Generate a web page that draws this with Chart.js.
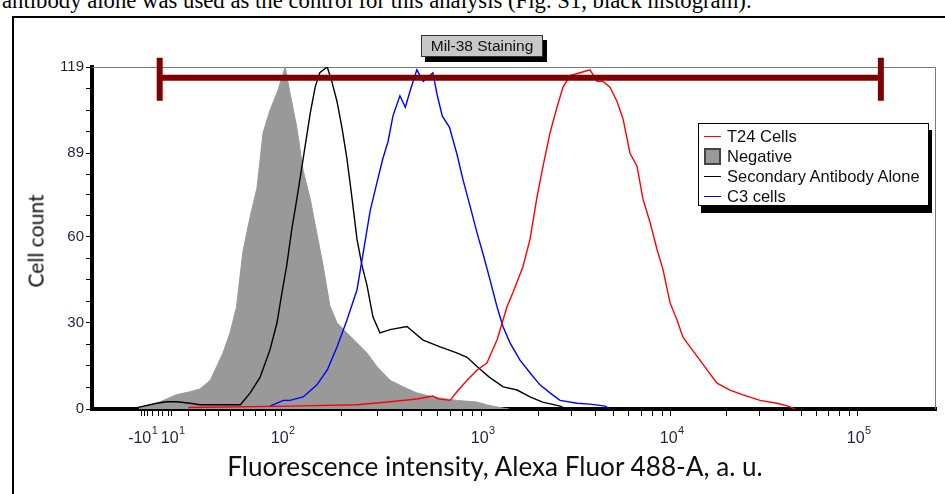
<!DOCTYPE html>
<html><head><meta charset="utf-8">
<script src="https://cdn.jsdelivr.net/npm/chart.js@4.4.1/dist/chart.umd.min.js"></script>
<style>
html,body{margin:0;padding:0;background:#fff;width:945px;height:494px;overflow:hidden;}
body{position:relative;font-family:"Liberation Sans",Arial,sans-serif;}
#frame{position:absolute;left:12px;top:16px;width:960px;height:520px;border:2px solid #000;box-sizing:border-box;}
#caption{position:absolute;left:2px;top:-9px;font-family:"Liberation Serif","Times New Roman",serif;font-size:20px;line-height:20px;white-space:nowrap;color:#000;}
#c{position:absolute;left:0;top:0;z-index:2;}
#ytitle{position:absolute;left:35px;top:241px;transform:translate(-50%,-50%) rotate(-90deg);font-family:Lato,"Open Sans",sans-serif;font-size:22px;white-space:nowrap;z-index:3;color:#111;}
#xtitle{position:absolute;left:495px;top:466px;transform:translate(-50%,-50%);font-family:Lato,"Open Sans",sans-serif;font-size:22px;white-space:nowrap;z-index:3;color:#111;}
#gateLabel{position:absolute;left:421px;top:35px;width:120px;height:20px;background:#c8c8c8;border:1px solid #333;box-shadow:4px 5px 0 #000;font-size:15.5px;text-align:center;line-height:20px;z-index:4;color:#111;}
#legend{position:absolute;left:698px;top:123px;width:231px;height:83px;border:1px solid #000;background:#fff;box-shadow:3px 7px 0 #000;z-index:4;padding-top:3px;box-sizing:border-box;}
.row{height:19.8px;display:flex;align-items:center;font-size:16.5px;color:#111;white-space:nowrap;}
.sample{width:17px;margin-left:5px;margin-right:6px;height:0;border-top:1.5px solid #000;}
.swatch{width:13px;height:13px;margin-left:5px;margin-right:6px;background:#999;border:2px solid #444;box-sizing:content-box;}
</style></head>
<body>
<div id="caption">antibody alone was used as the control for this analysis (Fig. S1, black histogram).</div>
<div id="frame"></div>
<canvas id="c" width="945" height="494"></canvas>
<div id="ytitle">Cell count</div>
<div id="xtitle">Fluorescence intensity, Alexa Fluor 488-A, a. u.</div>
<div id="gateLabel">Mil-38 Staining</div>
<div id="legend"></div>
<script>
// ---------- data (intensity in a.u., counts) ----------
const seriesNames = ["T24 Cells", "Negative", "Secondary Antibody Alone", "C3 cells"];
const seriesColors = ["#ff0000", "#999999", "#000000", "#0000ff"];

const t24Intensity = [20,110,238,348,474,570,605,694,752,845,948,1065,1205,1361,1464,1654,1801,1964,2111,2297,2502,2693,2932,3313,3741,4075,4384,4774,5199,5592,6091,6633,7135,7772,8465,9105,9915,10807,11635,12685,14342,15640,17684,20756,24355,30023,37018,42404,46200];
const t24Count     = [0.5,1,1.5,2.5,3.5,4.5,3.5,3,6,10,13.6,16,24,35.6,40.5,49.6,59,74,84.5,96,105,112,116,117,118,114,114,112,107,101,89,84.5,73,65,55.5,48.5,37,31,25,21.6,17,13.6,9,6.6,4.9,3,2,1,0];

const negIntensity = [-12,0,13,21,27,34,39,44,50,55,60,66,72,78,85,93,100,104,110,119,128,139,150,161,174,189,212,238,267,300,348,405,474,570,750,950,1070,1250,1400];
const negCount     = [0.5,2,5,6,7,10,15,19.5,26.5,35.6,55,67,77,96,104,110,115,119,110,98,83,73,61,50,36,30,26.5,23,19.5,14.7,10,7.7,5.6,4.2,3,2.4,1.4,0.5,0];

const secIntensity = [-13,0,7,13,21,27,37,50,58,66,75,85,93,100,106,112,119,128,139,147,155,169,178,189,200,212,225,238,252,267,286,310,348,423,509,620,750,845,950,1100,1300,1540,1800,2100,2600,2800];
const secCount     = [0.5,2,2.5,2.5,2,1.5,1.5,1.5,1.5,5.6,11,20.6,30,40,50,62,73,87,103,112,117,119,114,107,98,87,73,59,50,43,32,26.5,27.6,28.7,24,21.6,19.5,18,14.7,11,7.7,6.6,4.2,2.4,1,0];

const c3Intensity  = [85,102,110,128,150,169,189,212,238,255,277,300,320,340,360,390,415,440,474,510,540,570,600,635,690,750,805,875,950,1016,1106,1205,1296,1412,1594,1801,2034,2297,2596,3195,3740,4500,4770];
const c3Count      = [1,3,3,4.2,8.4,13.6,21.6,31,41.5,54,69,79,87,93,102,109,105,111,118,114,115.5,117,109,102,98,89,80,70.5,61,54,45,35.6,28.7,23,17,12.6,8.4,5.6,3,2,1.7,1,0];

const gateName = "Mil-38 Staining";
const gateRange = [2, 133000];
const gateLevel = 115.3;

const yMajorTicks = [0, 30, 60, 89, 119];
const xMajorTicks = [-10, 10, 100, 1000, 10000, 100000];
const xLabelBase  = ["-10", "10", "10", "10", "10", "10"];
const xLabelExp   = ["1", "1", "2", "3", "4", "5"];
const xMinorTicks = [-8,-6,-3,1,4,8,20,30,40,50,60,70,80,90,200,300,400,500,600,700,800,900,2000,3000,4000,5000,6000,7000,8000,9000,20000,30000,40000,50000,60000,70000,80000,90000];

// ---------- axis transform (biexponential-like display) ----------
const lowAnchors = [[-10,1.30],[0,1.375],[10,1.45],[20,1.533],[30,1.6165],[40,1.683],[50,1.7415],[60,1.8065],[70,1.8665],[80,1.9165],[90,1.9665],[100,2]];
function toDisp(I){
  if (I >= 100){
    const L = Math.log10(I);
    if (L <= 3) return L;
    if (L <= 4) return 3 + 0.945*(L-3);
    return 3.945 + 0.935*(L-4);
  }
  if (I <= -10) return 1.30 + (I+10)*0.0075;
  for (let i=1;i<lowAnchors.length;i++){
    const [a,da]=lowAnchors[i-1],[b,db]=lowAnchors[i];
    if (I<=b) return da + (I-a)/(b-a)*(db-da);
  }
  return 2;
}
const XMIN = 1.0515, XMAX = 5.2715;

function pts(xs, ys){ return xs.map((v,i)=>({x:toDisp(v), y:ys[i]})); }

const xTickList = xMajorTicks.map(v=>v).concat(xMinorTicks).sort((a,b)=>a-b);
const yTickList = [];
for (let i=0;i<yMajorTicks.length;i++){
  yTickList.push({v:yMajorTicks[i],label:String(yMajorTicks[i])});
  if (i<yMajorTicks.length-1){
    const a=yMajorTicks[i], b=yMajorTicks[i+1];
    for (let k=1;k<4;k++) yTickList.push({v:a+(b-a)*k/4,label:""});
  }
}

const framePlugin = {
  id:'framePlugin',
  beforeDatasetsDraw(chart){
    const {ctx, chartArea:a} = chart;
    ctx.save();
    ctx.strokeStyle='#7a7a7a'; ctx.lineWidth=1;
    ctx.beginPath();
    ctx.moveTo(a.left, a.top+0.5); ctx.lineTo(a.right-0.5, a.top+0.5); ctx.lineTo(a.right-0.5, a.bottom);
    ctx.stroke();
    ctx.restore();
  },
  afterDatasetsDraw(chart){
    const {ctx, scales:{x,y}} = chart;
    const x1 = x.getPixelForValue(toDisp(gateRange[0]));
    const x2 = x.getPixelForValue(toDisp(gateRange[1]));
    const yy = y.getPixelForValue(gateLevel);
    ctx.save();
    ctx.strokeStyle='#7f0000'; ctx.lineWidth=6; ctx.lineCap='butt';
    ctx.beginPath(); ctx.moveTo(x1,yy); ctx.lineTo(x2,yy); ctx.stroke();
    ctx.beginPath(); ctx.moveTo(x1,yy-20); ctx.lineTo(x1,yy+23); ctx.moveTo(x2,yy-20); ctx.lineTo(x2,yy+23); ctx.stroke();
    ctx.restore();
  },
  afterDraw(chart){
    // decade labels with superscript exponents
    const {ctx, scales:{x}, chartArea:a} = chart;
    ctx.save();
    ctx.fillStyle='#1e2340';
    ctx.textBaseline='alphabetic';
    const baseFont='16px "Liberation Sans", Arial, sans-serif';
    const expFont='11px "Liberation Sans", Arial, sans-serif';
    xMajorTicks.forEach((v,i)=>{
      const px = x.getPixelForValue(toDisp(v));
      ctx.font=baseFont; const wb = ctx.measureText(xLabelBase[i]).width;
      ctx.font=expFont;  const we = ctx.measureText(xLabelExp[i]).width;
      const left = px - wb/2 - 2;
      ctx.font=baseFont; ctx.textAlign='left';
      ctx.fillText(xLabelBase[i], left, a.bottom+34);
      ctx.font=expFont;
      ctx.fillText(xLabelExp[i], left+wb+0.5, a.bottom+25);
    });
    ctx.restore();
  }
};

const common = {pointRadius:0, borderWidth:1.4, tension:0, fill:false};
new Chart(document.getElementById('c'), {
  type:'line',
  data:{datasets:[
    Object.assign({label:seriesNames[0], data:pts(t24Intensity,t24Count), borderColor:seriesColors[0], order:1}, common),
    Object.assign({}, common, {label:seriesNames[1], data:pts(negIntensity,negCount), borderColor:seriesColors[1], backgroundColor:seriesColors[1], fill:'origin', borderWidth:1, order:5}),
    Object.assign({label:seriesNames[2], data:pts(secIntensity,secCount), borderColor:seriesColors[2], order:3}, common),
    Object.assign({label:seriesNames[3], data:pts(c3Intensity,c3Count), borderColor:seriesColors[3], order:2}, common)
  ]},
  options:{
    responsive:false, animation:false, devicePixelRatio:1,
    layout:{padding:{left:0, top:67, right:9, bottom:0}},
    plugins:{legend:{display:false}, tooltip:{enabled:false}},
    scales:{
      x:{type:'linear', min:XMIN, max:XMAX,
         afterBuildTicks:s=>{ s.ticks = xTickList.map(v=>({value:toDisp(v)})); },
         afterFit:s=>{ s.height = 85; },
         ticks:{autoSkip:false, maxRotation:0, minRotation:0, display:true, color:'rgba(0,0,0,0)',
                font:{size:16}, callback:()=>''},
         grid:{drawOnChartArea:false, drawTicks:true, tickLength:7, color:'#000', tickWidth:1},
         border:{display:true, color:'#000', width:4}},
      y:{type:'linear', min:0, max:119,
         afterBuildTicks:s=>{ s.ticks = yTickList.map(t=>({value:t.v})); },
         afterFit:s=>{ s.width = 92; },
         ticks:{autoSkip:false, padding:2, color:'#1e2340',
                font:{family:'"Liberation Sans", Arial, sans-serif', size:15},
                callback:(v,i)=>yTickList[i] ? yTickList[i].label : ''},
         grid:{drawOnChartArea:false, drawTicks:true, tickLength:6, color:'#000', tickWidth:1},
         border:{display:true, color:'#000', width:4}}
    }
  },
  plugins:[framePlugin]
});

// ---------- legend ----------
const legend = document.getElementById('legend');
[0,1,2,3].forEach(i=>{
  const row = document.createElement('div'); row.className='row';
  const mark = document.createElement('span');
  if (i===1){ mark.className='swatch'; }
  else { mark.className='sample'; mark.style.borderTopColor = seriesColors[i]; }
  row.appendChild(mark);
  const t = document.createElement('span'); t.textContent = seriesNames[i]; row.appendChild(t);
  legend.appendChild(row);
});
document.getElementById('gateLabel').textContent = gateName;

// ---------- fit title text sizes ----------
function fitWidth(id, target){
  const el = document.getElementById(id);
  el.style.display='inline-block';
  const fs = parseFloat(getComputedStyle(el).fontSize);
  const w = el.offsetWidth;
  el.style.fontSize = (fs*target/w).toFixed(2)+'px';
}
fitWidth('xtitle', 535);
fitWidth('ytitle', 93);
fitWidth('caption', 750);
</script>
</body></html>
